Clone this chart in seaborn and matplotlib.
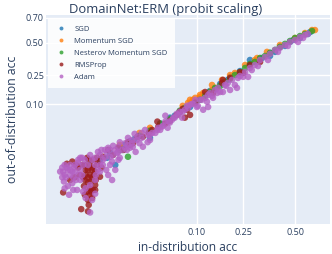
import matplotlib
matplotlib.use("Agg")
import matplotlib.pyplot as plt
import seaborn as sns
import pandas as pd
from statistics import NormalDist

# accuracies (in-distribution, out-of-distribution)
OPTIMIZERS = ["SGD", "Momentum SGD", "Nesterov Momentum SGD", "RMSProp", "Adam"]
COLORS = {
    "SGD": "#1f77b4",
    "Momentum SGD": "#ff7f0e",
    "Nesterov Momentum SGD": "#2ca02c",
    "RMSProp": "#9a1a1a",
    "Adam": "#b461c3",
}

sgd_id = [0.0054, 0.0078, 0.011, 0.0155, 0.021, 0.029, 0.039, 0.051, 0.066, 0.085,
          0.107, 0.133, 0.164, 0.198, 0.236, 0.278, 0.324, 0.372, 0.422, 0.474,
          0.526, 0.578, 0.0070, 0.0094, 0.0132, 0.018, 0.029, 0.039, 0.058, 0.085,
          0.12, 0.148, 0.19, 0.236, 0.278, 0.333, 0.397, 0.49, 0.448, 0.526, 0.567, 0.372]
sgd_ood = [0.0073, 0.0108, 0.015, 0.020, 0.026, 0.0345, 0.046, 0.059, 0.075, 0.097,
           0.125, 0.157, 0.195, 0.238, 0.277, 0.321, 0.367, 0.416, 0.465, 0.506,
           0.547, 0.588, 0.0082, 0.0054, 0.0166, 0.0224, 0.0236, 0.042, 0.064, 0.090,
           0.138, 0.167, 0.219, 0.264, 0.359, 0.375, 0.424, 0.522, 0.473, 0.539, 0.572, 0.391]

mom_id = [0.081, 0.096, 0.112, 0.107, 0.089, 0.139, 0.154, 0.091, 0.115, 0.139,
          0.216, 0.257, 0.31, 0.357, 0.603, 0.588, 0.085, 0.107, 0.029, 0.198,
          0.422, 0.50, 0.552, 0.30, 0.17, 0.071, 0.021, 0.011]
mom_ood = [0.105, 0.125, 0.129, 0.138, 0.109, 0.162, 0.173, 0.117, 0.147, 0.189,
           0.264, 0.321, 0.375, 0.424, 0.604, 0.604, 0.117, 0.129, 0.038, 0.25,
           0.481, 0.539, 0.58, 0.359, 0.219, 0.094, 0.030, 0.0166]

nes_id = [0.012, 0.0145, 0.011, 0.051, 0.075, 0.096, 0.12, 0.148, 0.18, 0.216,
          0.257, 0.30, 0.348, 0.397, 0.448, 0.50, 0.552, 0.588, 0.107, 0.133,
          0.164, 0.198, 0.236, 0.278, 0.324, 0.372, 0.422, 0.474, 0.526, 0.039,
          0.029, 0.021, 0.066]
nes_ood = [0.0127, 0.0087, 0.0127, 0.056, 0.087, 0.105, 0.134, 0.173, 0.207, 0.25,
           0.299, 0.344, 0.391, 0.44, 0.49, 0.539, 0.572, 0.596, 0.117, 0.152,
           0.184, 0.225, 0.27, 0.329, 0.375, 0.416, 0.465, 0.514, 0.555, 0.046,
           0.033, 0.026, 0.078]

rms_id = [0.00143, 0.0035, 0.0033, 0.0030, 0.0034, 0.0037, 0.0040, 0.0030, 0.0034, 0.0037,
          0.0041, 0.0033, 0.0037, 0.0040, 0.0034, 0.0035, 0.0026, 0.0034, 0.00122, 0.0054,
          0.0045, 0.0025, 0.0020, 0.00164, 0.0045, 0.0048, 0.0029, 0.0038, 0.0031, 0.0041,
          0.0060, 0.0087, 0.0125, 0.0155, 0.017, 0.0198, 0.0234, 0.036, 0.037, 0.045,
          0.066, 0.061, 0.071, 0.075, 0.142, 0.17, 0.249, 0.278, 0.324, 0.173,
          0.085, 0.079, 0.236, 0.0057, 0.0023, 0.0028,
          0.0037, 0.0040, 0.0043, 0.0034, 0.0046, 0.0031, 0.0041, 0.0048, 0.0038, 0.0030,
          0.0045, 0.0050, 0.0027, 0.0021, 0.0018, 0.0073, 0.0105, 0.0145, 0.028, 0.031,
          0.051, 0.096, 0.12, 0.198]
rms_ood = [0.0058, 0.0073, 0.0082, 0.0054, 0.0040, 0.0029, 0.0025, 0.0021, 0.0018, 0.0012,
           0.00107, 0.00095, 0.00076, 0.0006, 0.00052, 0.00036, 0.00026, 0.00022, 0.0009, 0.0026,
           0.0036, 0.0029, 0.0025, 0.0021, 0.0015, 0.0054, 0.0014, 0.0019, 0.0029, 0.0046,
           0.0087, 0.0096, 0.0127, 0.0166, 0.018, 0.025, 0.025, 0.050, 0.040, 0.046,
           0.075, 0.066, 0.084, 0.059, 0.147, 0.201, 0.264, 0.321, 0.344, 0.219,
           0.066, 0.081, 0.27, 0.0046, 0.0046, 0.0025,
           0.0054, 0.0040, 0.0029, 0.0025, 0.0021, 0.0040, 0.0073, 0.0082, 0.00095, 0.00076,
           0.00107, 0.0066, 0.0054, 0.0054, 0.0066, 0.0127, 0.0142, 0.019, 0.030, 0.0345,
           0.052, 0.105, 0.152, 0.231]

adam_id = [0.00117, 0.00122, 0.0013, 0.00137, 0.0015, 0.00164, 0.0018, 0.00195, 0.0020, 0.0023,
           0.0025, 0.0027, 0.0021, 0.0018, 0.0015, 0.0013, 0.00157, 0.00187, 0.0022, 0.0028,
           0.0031, 0.0037, 0.0045, 0.0050, 0.0054, 0.0060, 0.0054, 0.0065, 0.0070, 0.0078,
           0.0084, 0.0084, 0.0073, 0.0094, 0.010, 0.011, 0.012, 0.014, 0.0155, 0.017,
           0.0186, 0.021, 0.0234, 0.027, 0.029, 0.0040, 0.0045, 0.0034, 0.0030, 0.0025,
           0.0031, 0.0040, 0.0045, 0.0037, 0.029, 0.034, 0.037, 0.039, 0.0425, 0.045,
           0.048, 0.051, 0.054, 0.058, 0.063, 0.066, 0.070, 0.075, 0.081, 0.085,
           0.025, 0.045, 0.091, 0.096, 0.102, 0.107, 0.12, 0.128, 0.133, 0.142,
           0.148, 0.164, 0.173, 0.18, 0.19, 0.205, 0.216, 0.228, 0.249, 0.27,
           0.257, 0.278, 0.30, 0.324, 0.348, 0.372, 0.397, 0.422, 0.448, 0.474,
           0.50, 0.526, 0.552, 0.10, 0.115, 0.128, 0.154, 0.198, 0.224, 0.0105,
           0.0132, 0.0165, 0.0198, 0.0225, 0.011, 0.0145, 0.018, 0.0078, 0.0087,
           0.0013, 0.00143, 0.00164, 0.00187, 0.0023, 0.0025, 0.0020, 0.00164, 0.00107, 0.00117,
           0.00126, 0.0028, 0.0023, 0.0027, 0.0037, 0.0045, 0.0050, 0.0057, 0.0065, 0.0073,
           0.0094, 0.0087, 0.0105, 0.0060, 0.0068, 0.0054, 0.0078, 0.0046, 0.0105, 0.0132,
           0.0145, 0.0165, 0.0192, 0.0225, 0.027, 0.031, 0.036, 0.041, 0.049, 0.056,
           0.061, 0.071, 0.079, 0.089, 0.112, 0.125, 0.139, 0.157, 0.184, 0.236,
           0.286, 0.314, 0.362, 0.412, 0.463, 0.516, 0.542, 0.567]
adam_ood = [0.0046, 0.0036, 0.0029, 0.0025, 0.0040, 0.0054, 0.0036, 0.0046, 0.0054, 0.0062,
            0.0040, 0.0029, 0.0021, 0.0017, 0.0014, 0.0012, 0.00076, 0.00107, 0.00107, 0.00095,
            0.0012, 0.0015, 0.0021, 0.0040, 0.0054, 0.0073, 0.0096, 0.0082, 0.0108, 0.0087,
            0.0066, 0.0021, 0.0029, 0.0040, 0.0108, 0.0082, 0.0127, 0.0127, 0.0142, 0.015,
            0.0114, 0.018, 0.015, 0.019, 0.0212, 0.0073, 0.0054, 0.0054, 0.0073, 0.0082,
            0.0006, 0.00052, 0.00082, 0.0002, 0.0274, 0.030, 0.038, 0.0345, 0.042, 0.050,
            0.038, 0.048, 0.054, 0.059, 0.066, 0.075, 0.059, 0.081, 0.087, 0.097,
            0.0345, 0.064, 0.101, 0.117, 0.094, 0.117, 0.125, 0.138, 0.147, 0.125,
            0.162, 0.152, 0.152, 0.189, 0.201, 0.219, 0.189, 0.231, 0.238, 0.238,
            0.27, 0.299, 0.321, 0.359, 0.383, 0.408, 0.44, 0.457, 0.481, 0.506,
            0.522, 0.547, 0.564, 0.090, 0.081, 0.090, 0.147, 0.162, 0.173, 0.015,
            0.018, 0.0212, 0.025, 0.030, 0.019, 0.0236, 0.0287, 0.0127, 0.0158,
            0.0054, 0.0046, 0.0029, 0.0025, 0.0029, 0.0021, 0.0036, 0.0040, 0.0036, 0.0025,
            0.0019, 0.0054, 0.0073, 0.0082, 0.0096, 0.0082, 0.0114, 0.0127, 0.0127, 0.0142,
            0.0127, 0.0096, 0.0114, 0.0054, 0.0040, 0.0036, 0.0054, 0.0029, 0.0073, 0.0142,
            0.0166, 0.018, 0.0212, 0.0236, 0.0274, 0.030, 0.0345, 0.040, 0.050, 0.059,
            0.069, 0.075, 0.094, 0.101, 0.117, 0.109, 0.134, 0.173, 0.184, 0.244,
            0.284, 0.313, 0.359, 0.424, 0.473, 0.506, 0.539, 0.572]

X_TICKS = [0.10, 0.25, 0.50]
Y_TICKS = [0.10, 0.25, 0.50, 0.70]

probit = NormalDist().inv_cdf

series = {
    "SGD": (sgd_id, sgd_ood),
    "Momentum SGD": (mom_id, mom_ood),
    "Nesterov Momentum SGD": (nes_id, nes_ood),
    "RMSProp": (rms_id, rms_ood),
    "Adam": (adam_id, adam_ood),
}
frames = []
for name in OPTIMIZERS:
    ids, oods = series[name]
    frames.append(pd.DataFrame({"id_acc": ids, "ood_acc": oods, "optimizer": name}))
df = pd.concat(frames, ignore_index=True)
df["x"] = df["id_acc"].map(probit)
df["y"] = df["ood_acc"].map(probit)

BG = "#E5ECF6"
TXT = "#2a3f5f"

sns.set_theme(style="darkgrid", rc={"axes.facecolor": BG, "grid.color": "white",
                                    "grid.linewidth": 1.0})
plt.rcParams["font.family"] = ["Open Sans", "DejaVu Sans"]

fig = plt.figure(figsize=(3.32, 2.54), dpi=100)
ax = fig.add_axes([46 / 332, 1 - 224 / 254, 284 / 332, 209 / 254])

sns.scatterplot(data=df, x="x", y="y", hue="optimizer", hue_order=OPTIMIZERS,
                palette=COLORS, s=22, alpha=0.8, linewidth=0, ax=ax)

ax.set_xlim(-3.255, 0.4575)
ax.set_ylim(-3.78, 0.577)
ax.set_xticks([probit(t) for t in X_TICKS])
ax.set_xticklabels([f"{t:.2f}" for t in X_TICKS])
ax.set_yticks([probit(t) for t in Y_TICKS])
ax.set_yticklabels([f"{t:.2f}" for t in Y_TICKS])
ax.tick_params(axis="x", length=0, labelsize=6.5, labelcolor=TXT, pad=3)
ax.tick_params(axis="y", length=0, labelsize=6.5, labelcolor=TXT, pad=1.5)
for spine in ax.spines.values():
    spine.set_visible(False)

ax.set_xlabel("in-distribution acc", color=TXT, fontsize=8.6, labelpad=3)
ax.set_ylabel("out-of-distribution acc", color=TXT, fontsize=8.8, labelpad=5)
fig.suptitle("DomainNet:ERM (probit scaling)", color=TXT, fontsize=9.4, y=0.99)

leg = ax.legend(loc="upper left", bbox_to_anchor=(0.007, 0.986), fontsize=5.5,
                frameon=True, fancybox=False, framealpha=0.85, edgecolor="none",
                markerscale=0.6, handletextpad=0.9, labelspacing=0.62,
                borderpad=0.95, handlelength=1.6, borderaxespad=0)
leg.get_frame().set_facecolor("white")
for t in leg.get_texts():
    t.set_color(TXT)

fig.savefig("out.png", dpi=100)
